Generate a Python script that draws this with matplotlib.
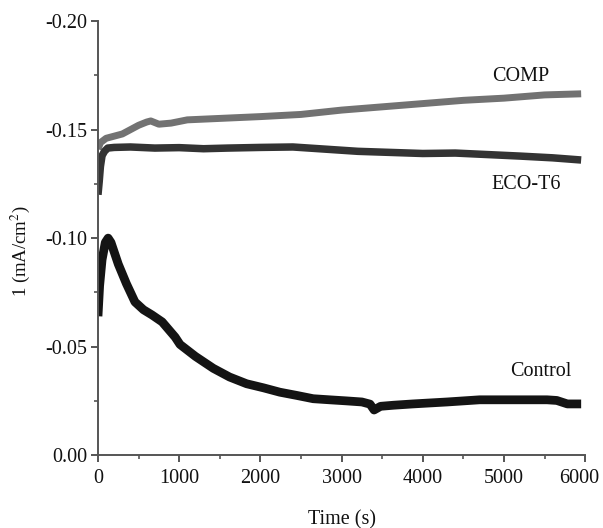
import matplotlib
matplotlib.use("Agg")
import matplotlib.pyplot as plt
import matplotlib.transforms as mtransforms
from matplotlib.ticker import MultipleLocator, FormatStrFormatter

plt.rcParams['font.family'] = ['Liberation Serif', 'DejaVu Serif']
plt.rcParams['mathtext.fontset'] = 'stix'

# ---- data ----
t_comp = [0, 30, 100, 200, 300, 400, 500, 600, 650, 750, 900, 1100, 1400, 1700, 2000, 2500,
          3000, 3500, 4000, 4500, 5000, 5500, 5950]
comp = [-0.141, -0.144, -0.146, -0.147, -0.148, -0.150, -0.152, -0.1535, -0.154, -0.1525, -0.153,
        -0.1545, -0.155, -0.1555, -0.156, -0.157, -0.159, -0.1605, -0.162, -0.1635, -0.1645,
        -0.1660, -0.1665]

t_eco = [0, 15, 30, 50, 80, 120, 200, 400, 700, 1000, 1300, 1600, 2000, 2400, 2800, 3200,
         3600, 4000, 4400, 4800, 5200, 5600, 5950]
eco = [-0.120, -0.126, -0.133, -0.138, -0.140, -0.1415, -0.1418, -0.142, -0.1415, -0.1417,
       -0.1412, -0.1415, -0.1418, -0.1420, -0.1410, -0.1400, -0.1395, -0.1390, -0.1392,
       -0.1385, -0.1378, -0.1370, -0.1360]

t_ctrl = [0, 20, 50, 90, 125, 160, 250, 350, 455, 560, 665, 790, 950, 1010, 1200, 1420,
          1620, 1830, 2040, 2240, 2450, 2650, 2850, 3060, 3250, 3350, 3400, 3480, 3640, 3880,
          4300, 4700, 5110, 5530, 5650, 5780, 5950]
ctrl = [-0.064, -0.078, -0.090, -0.098, -0.100, -0.098, -0.088, -0.079, -0.0706, -0.067,
        -0.0646, -0.0614, -0.0544, -0.051, -0.0455, -0.040, -0.036, -0.0329, -0.031, -0.029,
        -0.0275, -0.026, -0.0255, -0.0250, -0.0245, -0.0235, -0.0208, -0.0225, -0.0230,
        -0.0236, -0.0245, -0.0255, -0.0255, -0.0255, -0.0252, -0.0236, -0.0236]

x_ticks = [0, 1000, 2000, 3000, 4000, 5000, 6000]
y_ticks = [0.00, -0.05, -0.10, -0.15, -0.20]

# ---- figure ----
fig = plt.figure(figsize=(6.03, 5.28), dpi=100)
ax = fig.add_axes([0.1625, 0.138, 0.808, 0.822])

ax.plot(t_comp, comp, color='#727272', lw=5.0, solid_capstyle='butt', solid_joinstyle='round')
ax.plot(t_eco, eco, color='#333333', lw=5.4, solid_capstyle='butt', solid_joinstyle='round')
ax.plot(t_ctrl, ctrl, color='#141414', lw=6.3, solid_capstyle='butt', solid_joinstyle='round')

ax.set_xlim(0, 6000)
ax.set_ylim(0.0, -0.20)
ax.set_xticks(x_ticks)
ax.set_yticks(y_ticks)
ax.yaxis.set_major_formatter(FormatStrFormatter('%.2f'))
ax.xaxis.set_minor_locator(MultipleLocator(500))
ax.yaxis.set_minor_locator(MultipleLocator(0.025))

for s in ['top', 'right']:
    ax.spines[s].set_visible(False)
for s in ['left', 'bottom']:
    ax.spines[s].set_color('#555555')
    ax.spines[s].set_linewidth(1.4)

ax.tick_params(axis='both', which='major', direction='out', length=5, width=1.4,
               color='#555555', labelsize=14.5, labelcolor='#111111', pad=3)
ax.tick_params(axis='x', which='major', pad=5)
ax.tick_params(axis='both', which='minor', direction='out', length=3, width=1.2,
               color='#555555')

# keep the last x tick label inside the canvas
last_lbl = ax.xaxis.get_major_ticks()[-1].label1
last_lbl.set_transform(last_lbl.get_transform() +
                       mtransforms.ScaledTranslation(-4 / 72, 0, fig.dpi_scale_trans))

ax.set_xlabel('Time (s)', fontsize=14.5, color='#111111', labelpad=16)
ax.set_ylabel('1 (mA/cm$^{2}$)', fontsize=13.5, color='#111111')
ax.yaxis.set_label_coords(-0.135, 0.47)

ax.text(5200, -0.1745, 'COMP', fontsize=14.5, color='#111111', ha='center', va='center')
ax.text(5270, -0.1245, 'ECO-T6', fontsize=14.5, color='#111111', ha='center', va='center')
ax.text(5450, -0.0385, 'Control', fontsize=14.5, color='#111111', ha='center', va='center')

fig.savefig('out.png', dpi=100)
